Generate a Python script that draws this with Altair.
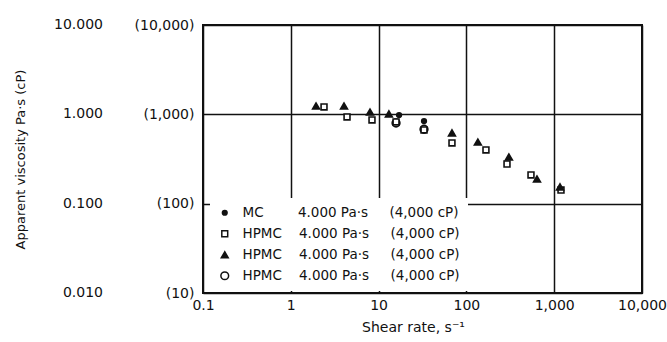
import altair as alt
import pandas as pd

FONT = "DejaVu Sans"
INK = "#111111"

# Series keys, legend texts and marker styling
series_keys = ["MC", "HPMC-sq", "HPMC-tri", "HPMC-circ"]
series_names = ["MC", "HPMC", "HPMC", "HPMC"]
series_grades = ["4.000 Pa·s", "4.000 Pa·s", "4.000 Pa·s", "4.000 Pa·s"]
series_cp = ["(4,000 cP)", "(4,000 cP)", "(4,000 cP)", "(4,000 cP)"]
series_shapes = ["circle", "square", "triangle-up", "circle"]
series_fills = [INK, "white", INK, "white"]
series_sizes = [22, 60, 80, 20]

# Shear rate (1/s) and apparent viscosity (Pa·s) for each series
mc_rate = [17.1, 32.9]
mc_visc = [0.98, 0.84]

hpmc_sq_rate = [2.39, 4.37, 8.41, 15.8, 32.9, 68.5, 167, 290, 544, 1195]
hpmc_sq_visc = [1.21, 0.935, 0.865, 0.822, 0.669, 0.478, 0.399, 0.278, 0.210, 0.142]

hpmc_tri_rate = [1.94, 4.04, 7.98, 13.1, 68.5, 135, 305, 637, 1164]
hpmc_tri_visc = [1.24, 1.24, 1.06, 1.01, 0.62, 0.49, 0.333, 0.189, 0.154]

hpmc_circ_rate = [15.8, 32.9]
hpmc_circ_visc = [0.80, 0.68]

# Axis ticks and their labels
x_ticks = [0.1, 1, 10, 100, 1000, 10000]
y_ticks = [0.01, 0.1, 1, 10]
y_labels_pas = ["0.010", "0.100", "1.000", "10.000"]
y_labels_cp = ["(10)", "(100)", "(1,000)", "(10,000)"]

rows = []
for key, rates, viscs in [
    ("HPMC-circ", hpmc_circ_rate, hpmc_circ_visc),
    ("HPMC-sq", hpmc_sq_rate, hpmc_sq_visc),
    ("HPMC-tri", hpmc_tri_rate, hpmc_tri_visc),
    ("MC", mc_rate, mc_visc),
]:
    for r, v in zip(rates, viscs):
        rows.append({"series": key, "rate": r, "visc": v})
df = pd.DataFrame(rows)

pas_df = pd.DataFrame({"visc": y_ticks, "label": y_labels_pas})

# Legend label text: names padded so the grade columns line up
NB = "\u00a0"
pad = {"MC": "\u2007\u2007"}
legend_text = {
    k: n + pad.get(n, "") + NB * 4 + g + NB * 5 + c
    for k, n, g, c in zip(series_keys, series_names, series_grades, series_cp)
}
legend_expr = " : ".join(
    f"datum.value === '{k}' ? '{t}'" for k, t in legend_text.items()
) + " : ''"

cp_expr = " : ".join(
    f"datum.value == {v} ? '{t}'" for v, t in zip(y_ticks, y_labels_cp)
) + " : ''"

legend = alt.Legend(title=None, labelExpr=legend_expr, orient="none",
                    legendX=7, legendY=173, fillColor="white", padding=8,
                    rowPadding=6, labelOffset=11, labelFontSize=13.5,
                    labelFont=FONT, labelColor=INK, labelLimit=400,
                    symbolStrokeWidth=1.5)

x_enc = alt.X(
    "rate:Q",
    scale=alt.Scale(type="log", domain=[0.1, 10000]),
    axis=alt.Axis(values=x_ticks, format=",", grid=True, ticks=False, domain=False,
                  labelFontSize=14, labelPadding=5, labelFont=FONT, labelColor=INK,
                  labelFlush=False, labelOverlap=False,
                  title="Shear rate, s\u207b\u00b9", titleFontSize=14,
                  titleFont=FONT, titleFontWeight="normal", titleColor=INK,
                  titleX=210, titleY=34, titleBaseline="middle"),
)
y_enc = alt.Y(
    "visc:Q",
    scale=alt.Scale(type="log", domain=[0.01, 10]),
    axis=alt.Axis(values=y_ticks, labelExpr=cp_expr, grid=True, ticks=False,
                  tickSize=0, domain=False, labelFontSize=14, labelPadding=9,
                  labelFont=FONT, labelColor=INK, labelFlush=False,
                  labelOverlap=False, labelBaseline="middle",
                  title="Apparent viscosity Pa·s (cP)", titleFontSize=13,
                  titleFont=FONT, titleFontWeight="normal", titleColor=INK,
                  titleX=-183, titleY=134, titleAngle=-90,
                  titleAlign="center", titleBaseline="middle"),
)

points = alt.Chart(df).mark_point(filled=True, strokeWidth=1.6, opacity=1).encode(
    x=x_enc,
    y=y_enc,
    shape=alt.Shape("series:N", scale=alt.Scale(domain=series_keys, range=series_shapes),
                    legend=legend),
    fill=alt.Fill("series:N", scale=alt.Scale(domain=series_keys, range=series_fills),
                  legend=legend),
    stroke=alt.Stroke("series:N", scale=alt.Scale(domain=series_keys, range=[INK] * 4),
                      legend=legend),
    size=alt.Size("series:N", scale=alt.Scale(domain=series_keys, range=series_sizes),
                  legend=legend),
)

# Pa·s column of the y-axis labels
pas_labels = alt.Chart(pas_df).mark_text(
    align="right", baseline="middle", fontSize=14, font=FONT, color=INK
).encode(
    x=alt.value(-100),
    y=alt.Y("visc:Q"),
    text="label:N",
)

chart = alt.layer(points, pas_labels).properties(
    width=439,
    height=268,
    autosize=alt.AutoSizeParams(type="none"),
    padding={"left": 203, "top": 25, "right": 25, "bottom": 49},
    background="white",
).configure_view(
    stroke=INK, strokeWidth=2
).configure_axis(
    gridColor=INK, gridWidth=1.5, gridOpacity=1
)

chart.save("out.html", embed_options={"renderer": "svg", "actions": False})
